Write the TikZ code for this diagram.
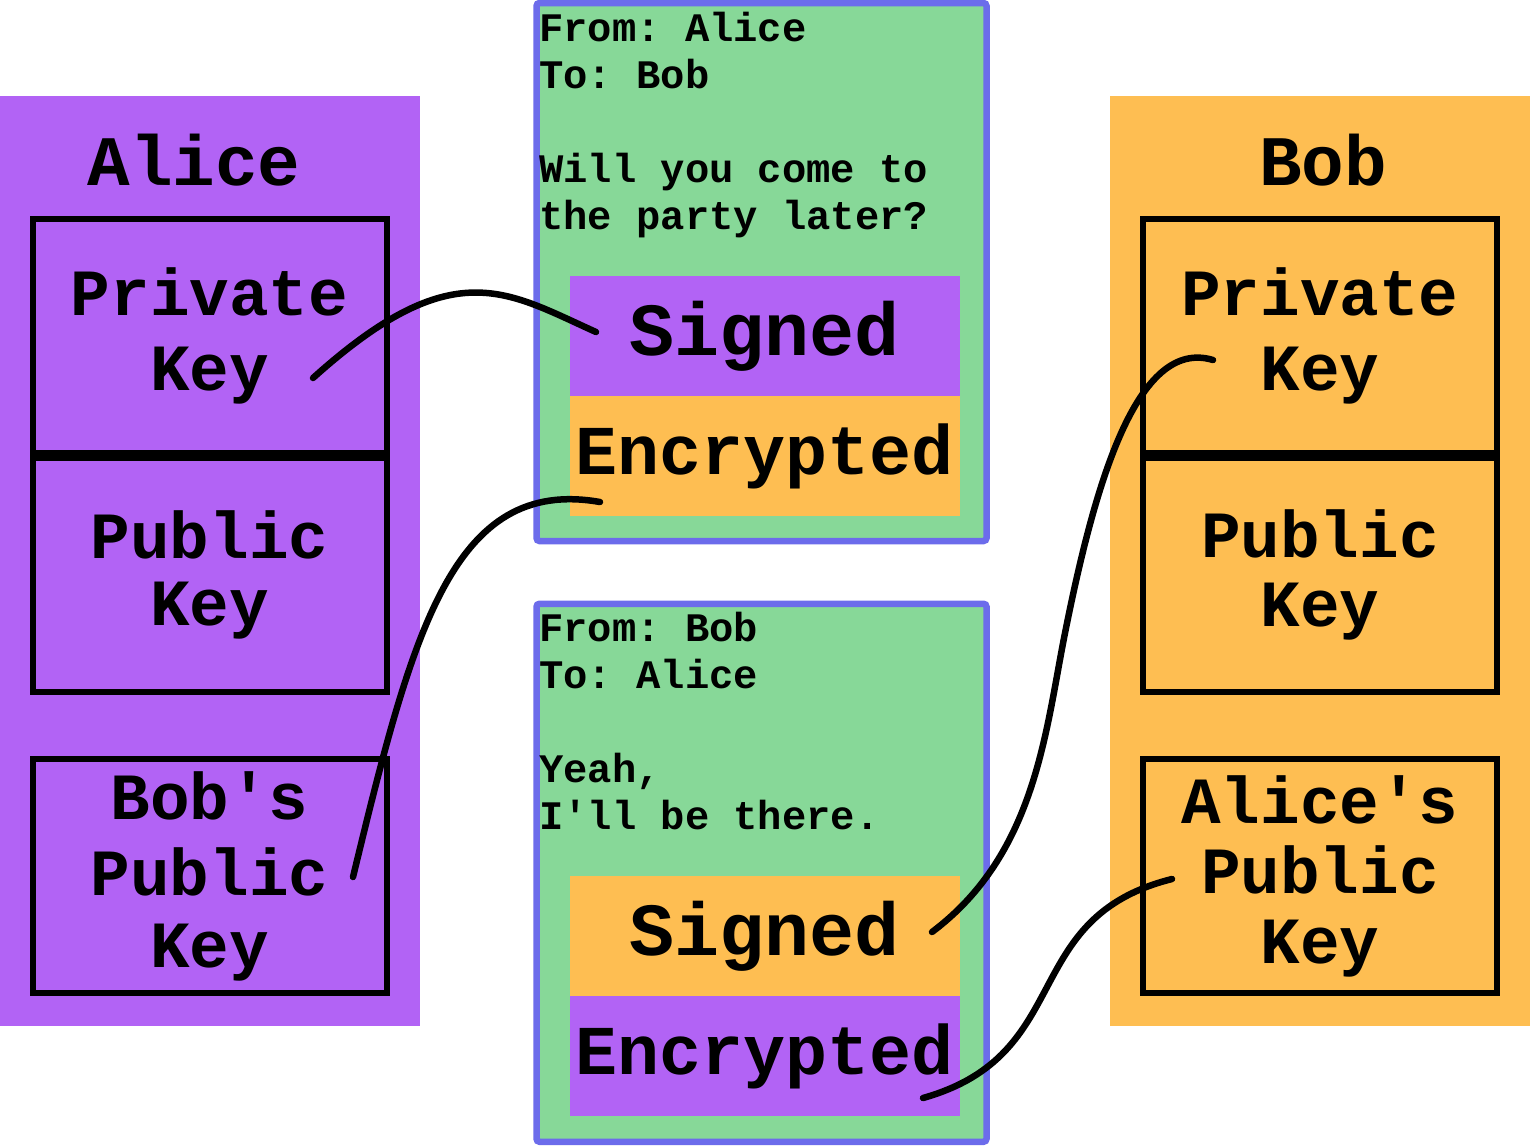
\documentclass[tikz,border=0pt]{standalone}
\usepackage{fontspec}
\setmonofont{Liberation Mono}
\definecolor{alicepurple}{RGB}{178, 99, 245}
\definecolor{boborange}{RGB}{254, 190, 82}
\definecolor{msggreen}{RGB}{135, 216, 152}
\definecolor{msgblue}{RGB}{108, 108, 235}
\newcommand{\titlefont}{\ttfamily\bfseries\fontsize{71}{75}\selectfont}
\newcommand{\keyfont}{\ttfamily\bfseries\fontsize{66}{70}\selectfont}
\newcommand{\sealfont}{\ttfamily\bfseries\fontsize{70}{75}\selectfont}
\newcommand{\signfont}{\ttfamily\bfseries\fontsize{75}{75}\selectfont}
\newcommand{\msgfont}{\ttfamily\bfseries\fontsize{40.5}{47}\selectfont}
\tikzset{
    panel/.style={rectangle, draw=none, inner sep=0pt, minimum width=420pt, minimum height=930pt},
    titletext/.style={anchor=base, inner sep=0pt, font=\titlefont},
    keybox/.style={rectangle, draw=black, line width=6pt, inner sep=0pt,
                   minimum width=354pt, minimum height=234pt, align=center, font=\keyfont},
    msgbox/.style={rectangle, rounded corners=3pt, draw=msgblue, fill=msggreen, line width=6.5pt,
                   minimum width=450pt, minimum height=538pt},
    msgtext/.style={anchor=north west, align=left, inner sep=0pt, font=\msgfont},
    sealbox/.style={rectangle, inner sep=0pt, minimum width=390pt, minimum height=120pt, font=\sealfont},
    wire/.style={line width=6.5pt, line cap=round},
}

\begin{document}
\begin{tikzpicture}[x=1pt, y=-1pt]
            \useasboundingbox (0,0) rectangle (1530,1146);
            % owners
            \node[panel, fill=alicepurple] (alice) at (210,561) {};
            \node[panel, fill=boborange] (bob) at (1320,561) {};
            \node[titletext] (alicename) at (194,185) {Alice};
            \node[titletext] (bobname) at (1323,185) {Bob};
            
            \node[keybox, fill=alicepurple] (apriv) at (209.5,336) {Private\\[5pt]Key};
            \node[keybox, fill=alicepurple] (apub) at (209.5,574.5) {Public\\[-3pt]Key};
            \node[keybox, fill=alicepurple] (abobs) at (209.5,876) {Bob's\\[6pt]Public\\[2pt]Key};
            \node[keybox, fill=boborange] (bpriv) at (1320,336) {Private\\[5pt]Key};
            \node[keybox, fill=boborange] (bpub) at (1320,574.5) {Public\\[-1pt]Key};
            \node[keybox, fill=boborange] (balices) at (1320,876) {Alice's\\Public\\Key};
            
            % messages
            \node[msgbox] (msgab) at (761.5,272) {};
            \node[msgtext] (textab) at (539,12) {From: Alice\\To: Bob\\[47pt]Will you come to\\the party later?};
            \node[sealbox, fill=alicepurple, font=\signfont] (absign) at (765,336) {Signed};
            \node[sealbox, fill=boborange] (abenc) at (765,456) {Encrypted};
            
            \node[msgbox] (msgba) at (761.5,872.75) {};
            \node[msgtext] (textba) at (539,612) {From: Bob\\To: Alice\\[47pt]Yeah,\\I'll be there.};
            \node[sealbox, fill=boborange, font=\signfont] (basign) at (765,936) {Signed};
            \node[sealbox, fill=alicepurple] (baenc) at (765,1056) {Encrypted};
            
            % wire ends
            \coordinate (aprivend) at ([shift={(103.5,42)}]apriv.center);
            \coordinate (absignend) at ([shift={(-169,-4)}]absign.center);
            \coordinate (abobsend) at ([shift={(143.5,1)}]abobs.center);
            \coordinate (abencend) at ([shift={(-165,46)}]abenc.center);
            \coordinate (basignend) at ([shift={(167,-4)}]basign.center);
            \coordinate (bprivend) at ([shift={(-107,24)}]bpriv.center);
            \coordinate (baencend) at ([shift={(158,42)}]baenc.center);
            \coordinate (balicesend) at ([shift={(-148,3)}]balices.center);
            
            \draw[wire] (aprivend) .. controls (453,252) and (506,291.5) .. (absignend);
            \draw[wire] (abobsend) .. controls (412,634) and (452,476) .. (abencend);
            \draw[wire] (basignend) .. controls (1036,854) and (1045.4,731) .. (1065,633)
                        .. controls (1094.4,486) and (1136.4,336.8) .. (bprivend);
            \draw[wire] (baencend) .. controls (1077,1054.5) and (1017,918) .. (balicesend);
        \end{tikzpicture}
\end{document}
